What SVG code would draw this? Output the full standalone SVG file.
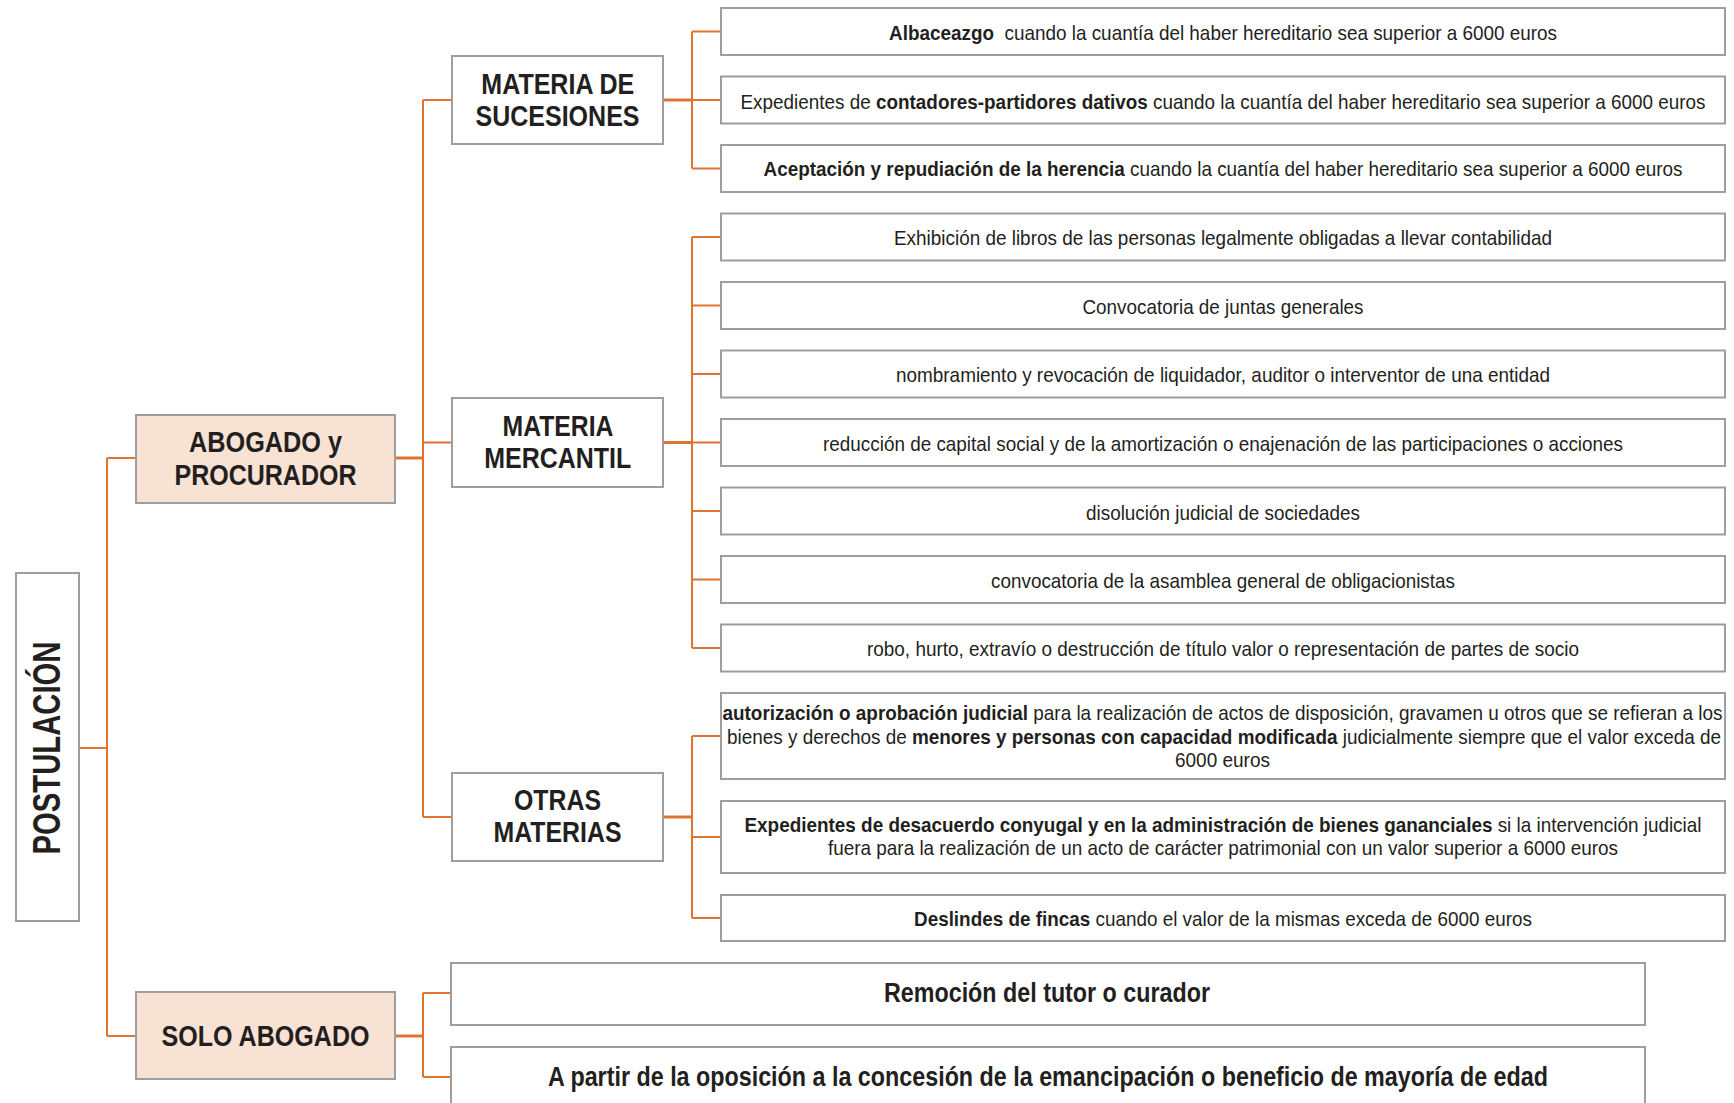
<svg xmlns="http://www.w3.org/2000/svg" width="1734" height="1103" viewBox="0 0 1734 1103">
<style>
.box{fill:#fff;stroke:#9e9e9e;stroke-width:2}
.peach{fill:#f8e2d4}
.conn{stroke:#df7431;stroke-width:2;fill:none}
.stub{stroke:#df7431;stroke-width:3;fill:none}
.t{font-family:"Liberation Sans",Arial,sans-serif;fill:#231f20;text-anchor:middle}
.h{font-weight:bold;font-size:29px}
.s{font-size:21px}
.b{font-weight:bold}
</style>
<rect width="1734" height="1103" fill="#fff"/>
<g id="connectors">
<path class="conn" d="M79,748H107M107,458V1036M107,458H136M107,1036H136"/>
<path class="stub" d="M395,458H423"/>
<path class="conn" d="M423,100V817M423,100H452M423,442.5H452M423,817H452"/>
<path class="stub" d="M663,100H692"/>
<path class="conn" d="M692,31.5V168.5M692,31.5H721M692,100H721M692,168.5H721"/>
<path class="stub" d="M663,442.5H692"/>
<path class="conn" d="M692,237V648M692,237H721M692,305.5H721M692,374H721M692,442.5H721M692,511H721M692,579.5H721M692,648H721"/>
<path class="stub" d="M663,817H692"/>
<path class="conn" d="M692,736V918M692,736H721M692,837H721M692,918H721"/>
<path class="stub" d="M395,1036H423"/>
<path class="conn" d="M423,993V1077M423,993H451M423,1077H451"/>
</g>
<g id="postulacion">
<rect class="box" x="16" y="573" width="63" height="348"/>
<text class="t b" font-size="38" textLength="213" lengthAdjust="spacingAndGlyphs" transform="translate(59.5,748) rotate(-90)">POSTULACIÓN</text>
</g>
<g id="abogado-procurador">
<rect class="box peach" x="136" y="415" width="259" height="88"/>
<text class="t h" x="265.5" y="452" textLength="153" lengthAdjust="spacingAndGlyphs">ABOGADO y</text>
<text class="t h" x="265.5" y="485" textLength="182" lengthAdjust="spacingAndGlyphs">PROCURADOR</text>
</g>
<g id="solo-abogado">
<rect class="box peach" x="136" y="992" width="259" height="87"/>
<text class="t h" x="265.5" y="1046" textLength="208" lengthAdjust="spacingAndGlyphs">SOLO ABOGADO</text>
</g>
<g id="materia-sucesiones">
<rect class="box" x="452" y="56" width="211" height="88"/>
<text class="t h" x="557.8" y="94" textLength="153" lengthAdjust="spacingAndGlyphs">MATERIA DE</text>
<text class="t h" x="557.5" y="125.5" textLength="164" lengthAdjust="spacingAndGlyphs">SUCESIONES</text>
</g>
<g id="materia-mercantil">
<rect class="box" x="452" y="398" width="211" height="89"/>
<text class="t h" x="558" y="435.5" textLength="111" lengthAdjust="spacingAndGlyphs">MATERIA</text>
<text class="t h" x="557.7" y="467.5" textLength="147" lengthAdjust="spacingAndGlyphs">MERCANTIL</text>
</g>
<g id="otras-materias">
<rect class="box" x="452" y="773" width="211" height="88"/>
<text class="t h" x="557.5" y="809.5" textLength="87" lengthAdjust="spacingAndGlyphs">OTRAS</text>
<text class="t h" x="557.5" y="842" textLength="128" lengthAdjust="spacingAndGlyphs">MATERIAS</text>
</g>
<g id="albaceazgo">
<rect class="box" x="721" y="8" width="1004" height="47"/>
<text class="t s" x="1223" y="40" textLength="668" lengthAdjust="spacingAndGlyphs"><tspan class="b">Albaceazgo</tspan>&#160; cuando la cuantía del haber hereditario sea superior a 6000 euros</text>
</g>
<g id="contadores">
<rect class="box" x="721" y="76.5" width="1004" height="47"/>
<text class="t s" x="1223" y="108.5" textLength="965" lengthAdjust="spacingAndGlyphs">Expedientes de <tspan class="b">contadores-partidores dativos</tspan> cuando la cuantía del haber hereditario sea superior a 6000 euros</text>
</g>
<g id="aceptacion">
<rect class="box" x="721" y="145" width="1004" height="47"/>
<text class="t s" x="1223" y="176" textLength="919" lengthAdjust="spacingAndGlyphs"><tspan class="b">Aceptación y repudiación de la herencia</tspan> cuando la cuantía del haber hereditario sea superior a 6000 euros</text>
</g>
<g id="exhibicion">
<rect class="box" x="721" y="213.5" width="1004" height="47"/>
<text class="t s" x="1223" y="245" textLength="658" lengthAdjust="spacingAndGlyphs">Exhibición de libros de las personas legalmente obligadas a llevar contabilidad</text>
</g>
<g id="convocatoria-juntas">
<rect class="box" x="721" y="282" width="1004" height="47"/>
<text class="t s" x="1223" y="313.5" textLength="281" lengthAdjust="spacingAndGlyphs">Convocatoria de juntas generales</text>
</g>
<g id="nombramiento">
<rect class="box" x="721" y="350.5" width="1004" height="47"/>
<text class="t s" x="1223" y="382" textLength="654" lengthAdjust="spacingAndGlyphs">nombramiento y revocación de liquidador, auditor o interventor de una entidad</text>
</g>
<g id="reduccion">
<rect class="box" x="721" y="419" width="1004" height="47"/>
<text class="t s" x="1223" y="450.5" textLength="800" lengthAdjust="spacingAndGlyphs">reducción de capital social y de la amortización o enajenación de las participaciones o acciones</text>
</g>
<g id="disolucion">
<rect class="box" x="721" y="487.5" width="1004" height="47"/>
<text class="t s" x="1223" y="519.5" textLength="274" lengthAdjust="spacingAndGlyphs">disolución judicial de sociedades</text>
</g>
<g id="convocatoria-asamblea">
<rect class="box" x="721" y="556" width="1004" height="47"/>
<text class="t s" x="1223" y="587.5" textLength="464" lengthAdjust="spacingAndGlyphs">convocatoria de la asamblea general de obligacionistas</text>
</g>
<g id="robo">
<rect class="box" x="721" y="624.5" width="1004" height="47"/>
<text class="t s" x="1223" y="656" textLength="712" lengthAdjust="spacingAndGlyphs">robo, hurto, extravío o destrucción de título valor o representación de partes de socio</text>
</g>
<g id="autorizacion">
<rect class="box" x="721" y="693" width="1004" height="86"/>
<text class="t s" x="1222.5" y="719.5" textLength="1000" lengthAdjust="spacingAndGlyphs"><tspan class="b">autorización o aprobación judicial</tspan> para la realización de actos de disposición, gravamen u otros que se refieran a los</text>
<text class="t s" x="1224" y="744" textLength="994" lengthAdjust="spacingAndGlyphs">bienes y derechos de <tspan class="b">menores y personas con capacidad modificada</tspan> judicialmente siempre que el valor exceda de</text>
<text class="t s" x="1222.5" y="767" textLength="95" lengthAdjust="spacingAndGlyphs">6000 euros</text>
</g>
<g id="desacuerdo">
<rect class="box" x="721" y="801" width="1004" height="72"/>
<text class="t s" x="1223" y="832" textLength="957" lengthAdjust="spacingAndGlyphs"><tspan class="b">Expedientes de desacuerdo conyugal y en la administración de bienes gananciales</tspan> si la intervención judicial</text>
<text class="t s" x="1223" y="855" textLength="790" lengthAdjust="spacingAndGlyphs">fuera para la realización de un acto de carácter patrimonial con un valor superior a 6000 euros</text>
</g>
<g id="deslindes">
<rect class="box" x="721" y="895" width="1004" height="46"/>
<text class="t s" x="1223" y="925.5" textLength="618" lengthAdjust="spacingAndGlyphs"><tspan class="b">Deslindes de fincas</tspan> cuando el valor de la mismas exceda de 6000 euros</text>
</g>
<g id="remocion">
<rect class="box" x="451" y="963" width="1194" height="62"/>
<text class="t b" font-size="27" x="1047" y="1002" textLength="326" lengthAdjust="spacingAndGlyphs">Remoción del tutor o curador</text>
</g>
<g id="emancipacion">
<rect class="box" x="451" y="1047" width="1194" height="80"/>
<text class="t b" font-size="27" x="1048" y="1086" textLength="1000" lengthAdjust="spacingAndGlyphs">A partir de la oposición a la concesión de la emancipación o beneficio de mayoría de edad</text>
</g>
</svg>
